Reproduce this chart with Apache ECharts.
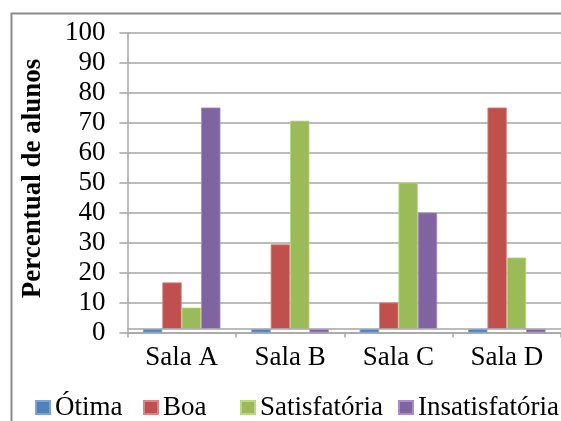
<!DOCTYPE html>
<html>
<head>
<meta charset="utf-8">
<script src="https://cdn.jsdelivr.net/npm/echarts@6/dist/echarts.min.js"></script>
<style>
  html, body { margin: 0; padding: 0; background: #ffffff; }
  #chart { width: 561px; height: 421px; }
</style>
</head>
<body>
<div id="chart"></div>
<script>
// Classroom evaluation: share of students per rating, by room
const categories = ['Sala A', 'Sala B', 'Sala C', 'Sala D'];
const seriesNames = ['Ótima', 'Boa', 'Satisfatória', 'Insatisfatória'];
const otima = [0, 0, 0, 0];
const boa = [16.7, 29.4, 10, 75];
const satisfatoria = [8.3, 70.6, 50, 25];
const insatisfatoria = [75, 0, 40, 0];
const yTicks = [0, 10, 20, 30, 40, 50, 60, 70, 80, 90, 100];
// value where the category axis crosses the value axis (bars grow from here)
const axisCross = 1.2;

const colors = ['#4F81BD', '#C0504D', '#9BBB59', '#8064A2'];
const borders = ['#7EA3D3', '#D98583', '#BCD68A', '#A690C2'];
const values = [otima, boa, satisfatoria, insatisfatoria];
const legendLeft = [35, 143, 240, 398];
const FONT = '"Liberation Serif", "Times New Roman", serif';
const FS = 27;

const chart = echarts.init(document.getElementById('chart'), null, { renderer: 'canvas' });

const series = seriesNames.map((name, i) => {
  const s = {
    name: name,
    type: 'bar',
    data: values[i],
    barGap: '0%',
    barCategoryGap: '28.5%',
    itemStyle: { color: colors[i], borderColor: borders[i], borderWidth: 0.8 },
    emphasis: { disabled: true },
    animation: false
  };
  if (i === 0) {
    s.markLine = {
      silent: true,
      symbol: ['none', 'none'],
      label: { show: false },
      lineStyle: { color: '#A6A6A6', width: 1.5, type: 'solid' },
      data: [{ yAxis: axisCross }],
      animation: false
    };
  }
  return s;
});

// one legend block per series so each entry sits at its own spot
const legends = seriesNames.map((name, i) => ({
  data: [name],
  left: legendLeft[i],
  top: 394,
  padding: 0,
  icon: 'rect',
  itemWidth: 14,
  itemHeight: 13,
  textStyle: { fontFamily: FONT, fontSize: FS, color: '#000000' },
  selectedMode: false
}));

chart.setOption({
  backgroundColor: '#ffffff',
  animation: false,
  textStyle: { fontFamily: FONT },
  graphic: [{
    type: 'rect',
    left: 9, top: 11,
    shape: { width: 620, height: 480 },
    style: { fill: 'none', stroke: '#8C8C8C', lineWidth: 2 },
    silent: true,
    z: 100
  }],
  grid: { left: 127.5, top: 32.5, width: 435, height: 300, containLabel: false },
  legend: legends,
  xAxis: {
    type: 'category',
    data: categories,
    axisLine: { onZero: false, lineStyle: { color: '#A6A6A6', width: 1.5 } },
    axisTick: { show: true, length: 5, lineStyle: { color: '#A6A6A6', width: 1.5 } },
    axisLabel: { fontFamily: FONT, fontSize: FS, color: '#000000', margin: 12 },
    splitLine: { show: false }
  },
  yAxis: {
    type: 'value',
    min: 0,
    max: 100,
    interval: 10,
    startValue: axisCross,
    name: 'Percentual de alunos',
    nameLocation: 'middle',
    nameRotate: 90,
    nameGap: 81,
    nameTextStyle: { fontFamily: FONT, fontSize: FS, fontWeight: 'bold', color: '#000000', padding: [0, 0, 0, 8] },
    axisLine: { show: true, lineStyle: { color: '#A6A6A6', width: 1.5 } },
    axisTick: { show: true, length: 8, lineStyle: { color: '#A6A6A6', width: 1.5 } },
    axisLabel: {
      fontFamily: FONT, fontSize: FS, color: '#000000', margin: 22,
      formatter: v => (yTicks.indexOf(v) >= 0 ? String(v) : '')
    },
    splitLine: { show: true, lineStyle: { color: '#A6A6A6', width: 1.5 } }
  },
  series: series
});
</script>
</body>
</html>
